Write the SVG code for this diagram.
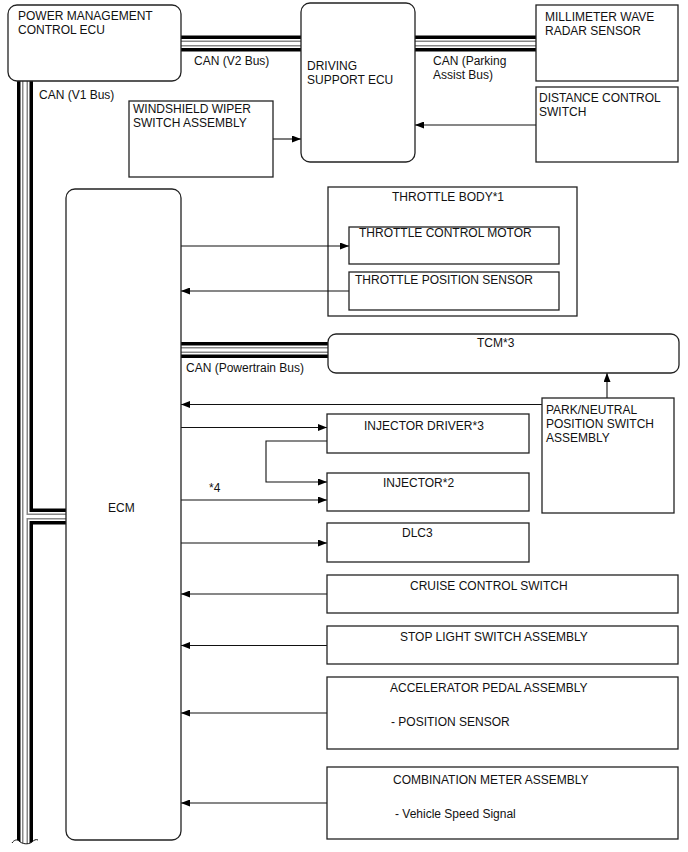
<svg xmlns="http://www.w3.org/2000/svg" xmlns:xlink="http://www.w3.org/1999/xlink" width="688" height="852" viewBox="0 0 688 852">
<style>
text{font-family:"Liberation Sans",Arial,sans-serif;font-size:12px;fill:#111}
.box{fill:#fff;stroke:#222;stroke-width:1.3}
.frame{fill:none;stroke:#222;stroke-width:1.3}
.c{fill:none;stroke:#111;stroke-width:1.1}
.b1{fill:none;stroke:#000;stroke-width:16}
.b2{fill:none;stroke:#fff;stroke-width:9}
.b3{fill:none;stroke:#888;stroke-width:6}
.b4{fill:none;stroke:#fff;stroke-width:3}
</style>
<defs>
<marker id="ah" viewBox="0 0 9 7" refX="9" refY="3.5" markerWidth="9" markerHeight="7" markerUnits="userSpaceOnUse" orient="auto">
<path d="M0,0 L9,3.5 L0,7 z" fill="#000"/>
</marker>
<path id="bus1" d="M25,81 V846"/>
<path id="bus2" d="M25,516.5 H66"/>
<path id="bus3" d="M181,43.5 H301"/>
<path id="bus4" d="M415,43.5 H536"/>
<path id="bus5" d="M181,350 H328"/>
</defs>
<rect width="688" height="852" fill="#fff"/>
<g id="throttle-body">
<rect class="frame" x="328" y="187" width="249" height="129"/>
<text x="392" y="201">THROTTLE BODY*1</text>
</g>
<g id="connectors">
<g id="buses">
<use href="#bus1" class="b1"/><use href="#bus2" class="b1"/><use href="#bus3" class="b1"/><use href="#bus4" class="b1"/><use href="#bus5" class="b1"/>
<use href="#bus1" class="b2"/><use href="#bus2" class="b2"/><use href="#bus3" class="b2"/><use href="#bus4" class="b2"/><use href="#bus5" class="b2"/>
<use href="#bus1" class="b3"/><use href="#bus2" class="b3"/><use href="#bus3" class="b3"/><use href="#bus4" class="b3"/><use href="#bus5" class="b3"/>
<use href="#bus1" class="b4"/><use href="#bus2" class="b4"/><use href="#bus3" class="b4"/><use href="#bus4" class="b4"/><use href="#bus5" class="b4"/>
<path d="M12,843 C14,840 17,839 19,841 C22,844 28,845 32,842 C34,840 36,839 38,840 L38,852 L12,852 Z" fill="#fff"/>
<path d="M12,843 C14,840 17,839 19,841 C22,844 28,845 32,842 C34,840 36,839 38,840" fill="none" stroke="#111" stroke-width="1"/>
</g>
<text x="194" y="65">CAN (V2 Bus)</text>
<text x="39" y="99">CAN (V1 Bus)</text>
<text x="433" y="65">CAN (Parking</text>
<text x="433" y="79">Assist Bus)</text>
<text x="186" y="372">CAN (Powertrain Bus)</text>
<text x="209" y="492">*4</text>
<path class="c" d="M273,139 H301" marker-end="url(#ah)"/>
<path class="c" d="M536,125 H415" marker-end="url(#ah)"/>
<path class="c" d="M181,246 H349" marker-end="url(#ah)"/>
<path class="c" d="M349,291 H181" marker-end="url(#ah)"/>
<path class="c" d="M607,398 V373" marker-end="url(#ah)"/>
<path class="c" d="M542,404.5 H181" marker-end="url(#ah)"/>
<path class="c" d="M181,427.5 H327" marker-end="url(#ah)"/>
<path class="c" d="M327,441 H266 V482 H327" marker-end="url(#ah)"/>
<path class="c" d="M181,500 H327" marker-end="url(#ah)"/>
<path class="c" d="M181,543 H327" marker-end="url(#ah)"/>
<path class="c" d="M327,594 H181" marker-end="url(#ah)"/>
<path class="c" d="M327,645.5 H181" marker-end="url(#ah)"/>
<path class="c" d="M327,713 H181" marker-end="url(#ah)"/>
<path class="c" d="M327,803 H181" marker-end="url(#ah)"/>
</g>
<g id="power-management-ecu">
<rect class="box" x="8" y="5" width="173" height="76" rx="9"/>
<text x="18" y="20">POWER MANAGEMENT</text>
<text x="18" y="33.5">CONTROL ECU</text>
</g>
<g id="driving-support-ecu">
<rect class="box" x="301" y="3" width="114" height="159" rx="9"/>
<text x="307" y="70">DRIVING</text>
<text x="307" y="83.5">SUPPORT ECU</text>
</g>
<g id="millimeter-wave-radar">
<rect class="box" x="536" y="5" width="142" height="76"/>
<text x="545" y="21">MILLIMETER WAVE</text>
<text x="545" y="35">RADAR SENSOR</text>
</g>
<g id="distance-control-switch">
<rect class="box" x="536" y="87" width="142" height="75"/>
<text x="539" y="102">DISTANCE CONTROL</text>
<text x="539" y="116">SWITCH</text>
</g>
<g id="windshield-wiper-switch">
<rect class="box" x="129" y="101" width="144" height="76"/>
<text x="133" y="113">WINDSHIELD WIPER</text>
<text x="133" y="127">SWITCH ASSEMBLY</text>
</g>
<g id="ecm">
<rect class="box" x="66" y="189" width="115" height="651" rx="9"/>
<text x="108" y="512">ECM</text>
</g>
<g id="throttle-control-motor">
<rect class="box" x="349" y="227" width="210" height="37"/>
<text x="359" y="237">THROTTLE CONTROL MOTOR</text>
</g>
<g id="throttle-position-sensor">
<rect class="box" x="349" y="272" width="210" height="38"/>
<text x="355" y="284">THROTTLE POSITION SENSOR</text>
</g>
<g id="tcm">
<rect class="box" x="328" y="334" width="351" height="39" rx="8"/>
<text x="477" y="347">TCM*3</text>
</g>
<g id="park-neutral-switch">
<rect class="box" x="542" y="398" width="132" height="115"/>
<text x="546" y="414">PARK/NEUTRAL</text>
<text x="546" y="428">POSITION SWITCH</text>
<text x="546" y="442">ASSEMBLY</text>
</g>
<g id="injector-driver">
<rect class="box" x="327" y="414" width="202" height="39"/>
<text x="364" y="430">INJECTOR DRIVER*3</text>
</g>
<g id="injector">
<rect class="box" x="327" y="473" width="202" height="38"/>
<text x="383" y="487">INJECTOR*2</text>
</g>
<g id="dlc3">
<rect class="box" x="327" y="523" width="202" height="39"/>
<text x="402" y="537">DLC3</text>
</g>
<g id="cruise-control-switch">
<rect class="box" x="327" y="575" width="351" height="38"/>
<text x="410" y="590">CRUISE CONTROL SWITCH</text>
</g>
<g id="stop-light-switch">
<rect class="box" x="327" y="626" width="351" height="38"/>
<text x="400" y="641">STOP LIGHT SWITCH ASSEMBLY</text>
</g>
<g id="accelerator-pedal">
<rect class="box" x="327" y="677" width="351" height="72"/>
<text x="390" y="692">ACCELERATOR PEDAL ASSEMBLY</text>
<text x="391" y="726">- POSITION SENSOR</text>
</g>
<g id="combination-meter">
<rect class="box" x="327" y="767" width="351" height="72"/>
<text x="393" y="784">COMBINATION METER ASSEMBLY</text>
<text x="395" y="818">- Vehicle Speed Signal</text>
</g>
</svg>
